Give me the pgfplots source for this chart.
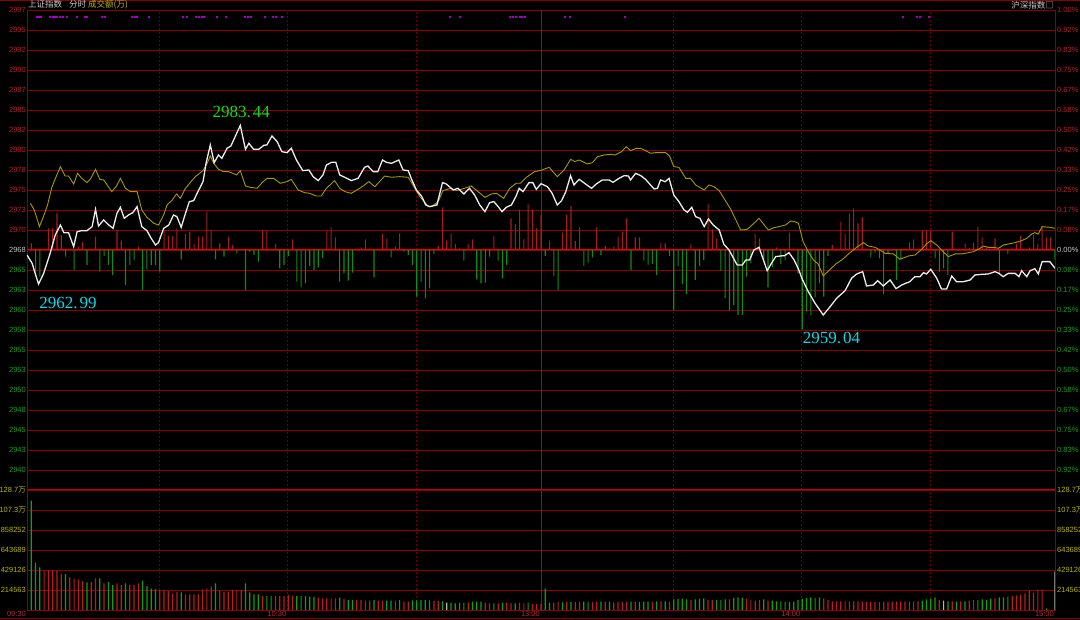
\documentclass[border=0pt]{standalone}
\usepackage{pgfplots}
\usepackage{pgfplotstable}
\pgfplotsset{compat=1.18}
\usepackage{fontspec}
\setmainfont{Liberation Sans}
\newfontfamily\cjk{Noto Sans CJK SC}
\newfontfamily\annofont{Liberation Serif}

\definecolor{gridred}{HTML}{8C0000}
\definecolor{vgrid}{HTML}{6A0000}
\definecolor{zerored}{HTML}{E80000}
\definecolor{sepred}{HTML}{C00000}
\definecolor{lblred}{HTML}{B82424}
\definecolor{lblgreen}{HTML}{18A018}
\definecolor{lblgrey}{HTML}{C8C8C8}
\definecolor{lblolive}{HTML}{B8B400}
\definecolor{pricewhite}{HTML}{EDEDED}
\definecolor{avgyellow}{HTML}{A89800}
\definecolor{barred}{HTML}{A81C1C}
\definecolor{bargreen}{HTML}{128C12}
\definecolor{volred}{HTML}{B81E1E}
\definecolor{volgreen}{HTML}{10A010}
\definecolor{volgrey}{HTML}{B4B4B4}
\definecolor{higreen}{HTML}{10E010}
\definecolor{locyan}{HTML}{10D8E8}
\definecolor{dotpurple}{HTML}{A000C8}
\definecolor{timered}{HTML}{B03030}

\newcommand{\tR}[1]{\textcolor{lblred}{#1}}
\newcommand{\tG}[1]{\textcolor{lblgreen}{#1}}
\newcommand{\tW}[1]{\textcolor{lblgrey}{#1}}
\newcommand{\tY}[1]{\textcolor{lblolive}{#1}}
\newcommand{\lblfont}{\fontsize{7.5}{8}\selectfont}

% minute of session (0..240) / index value
\pgfplotstableread{
m v
0 2967.58
1.2 2966.55
1.9 2965.31
2.7 2963.99
3.9 2965.31
5.4 2967.79
6.6 2970.06
7.8 2971.29
8.6 2970.34
9.7 2970.34
10.9 2968.61
11.7 2970.47
12.8 2970.59
14.0 2970.59
15.2 2971.09
16.0 2973.23
16.7 2971.17
17.9 2971.91
19.1 2971.29
20.1 2970.88
21.0 2972.74
21.8 2973.48
22.7 2972.12
23.7 2972.53
24.7 2972.82
25.7 2973.56
26.8 2971.09
28.0 2970.59
29.0 2969.64
30.0 2968.82
30.7 2969.11
31.9 2970.88
33.1 2971.29
34.2 2972.53
35.0 2972.32
36.0 2971.00
37.0 2972.74
37.9 2974.18
38.9 2974.30
40.1 2975.62
41.1 2976.65
41.8 2978.92
42.8 2981.19
43.7 2979.00
44.7 2979.95
45.5 2979.54
46.7 2980.78
47.6 2981.06
48.6 2982.22
49.8 2983.60
51.0 2980.65
51.8 2981.39
52.9 2980.65
54.1 2980.65
55.3 2981.15
56.0 2981.19
57.2 2982.30
58.4 2981.60
59.5 2980.36
60.7 2980.24
61.7 2980.78
62.9 2979.33
64.4 2978.01
65.8 2978.10
66.8 2977.27
68.0 2976.78
69.1 2977.48
69.9 2978.71
71.1 2979.04
72.1 2979.04
73.0 2977.48
74.2 2977.19
75.7 2976.78
77.3 2977.06
78.8 2978.42
79.6 2978.59
80.8 2977.89
81.9 2977.89
83.0 2979.33
83.9 2979.04
85.1 2978.92
86.8 2979.33
87.8 2978.10
89.0 2978.01
89.7 2977.06
90.9 2975.62
92.1 2974.88
93.1 2973.77
94.0 2973.56
95.7 2973.77
97.0 2976.53
97.9 2976.36
99.5 2975.62
100.6 2975.83
102.0 2975.13
103.3 2975.83
104.5 2975.00
105.7 2973.77
106.9 2972.94
108.0 2974.05
109.0 2974.18
110.0 2973.56
110.9 2972.94
111.9 2973.48
113.1 2973.77
114.2 2974.88
114.9 2975.83
115.8 2975.42
117.2 2976.53
118.1 2976.53
118.9 2975.70
120.0 2976.40
121.5 2976.03
122.6 2975.21
123.8 2973.77
124.8 2974.30
125.8 2975.42
126.9 2977.39
127.7 2976.24
128.9 2976.94
130.4 2976.36
131.8 2975.83
132.9 2976.36
134.3 2976.86
135.9 2976.86
136.8 2976.57
138.2 2977.06
139.4 2977.39
140.4 2977.35
140.9 2976.86
142.1 2977.68
143.3 2977.39
144.4 2976.94
146.4 2975.75
147.2 2975.83
147.9 2976.86
149.0 2976.65
149.9 2977.06
151.0 2975.00
152.2 2974.18
153.4 2973.15
154.2 2972.86
155.2 2973.48
156.1 2972.32
157.1 2972.12
158.1 2971.09
159.1 2972.03
160.2 2971.29
161.6 2970.67
162.7 2968.90
163.9 2968.20
165.8 2966.34
167.0 2966.34
167.8 2966.96
168.7 2966.96
169.7 2968.20
170.9 2968.53
171.8 2967.17
172.8 2965.64
173.8 2966.55
174.8 2967.38
175.9 2967.46
176.9 2967.50
177.9 2967.87
179.1 2966.96
180.2 2965.73
180.9 2964.70
182.4 2963.05
184.0 2961.60
185.9 2960.16
187.5 2961.19
189.0 2962.22
191.0 2963.17
192.5 2964.70
193.7 2965.23
195.1 2965.52
196.0 2963.75
197.6 2963.87
198.6 2964.41
199.9 2963.75
201.5 2964.49
202.9 2963.42
204.2 2963.87
206.1 2964.28
207.3 2964.90
208.5 2964.90
209.3 2965.40
210.0 2965.23
211.0 2965.81
212.4 2964.70
213.5 2963.38
214.7 2963.38
215.9 2964.98
217.0 2964.28
218.6 2964.28
220.2 2964.49
221.3 2965.11
222.9 2965.19
224.4 2965.23
226.0 2965.52
226.9 2965.31
227.9 2964.90
229.1 2965.31
230.7 2965.31
231.6 2964.90
232.2 2965.64
233.4 2964.90
234.2 2965.64
235.3 2965.89
236.1 2965.23
237.0 2966.76
238.8 2966.76
240.0 2965.93
}\priceline

\pgfplotstableread{
m v
0.8 2973.97
1.7 2973.15
2.9 2971.09
3.9 2972.41
4.8 2973.77
5.8 2975.95
6.8 2977.27
7.8 2978.51
8.9 2977.35
9.7 2977.35
10.9 2976.36
11.8 2977.68
12.8 2977.06
14.0 2976.53
14.9 2977.06
16.0 2978.18
17.0 2976.94
17.9 2976.86
19.8 2975.42
20.9 2976.12
21.8 2977.06
23.0 2975.83
24.1 2975.42
25.7 2975.42
26.8 2973.15
28.0 2972.24
29.6 2971.50
30.7 2971.29
31.9 2972.53
32.7 2973.77
33.9 2974.38
34.9 2975.13
35.8 2974.59
37.0 2975.83
38.1 2976.53
39.3 2977.27
40.5 2977.77
41.2 2978.10
42.0 2978.84
42.8 2979.83
43.6 2978.92
44.7 2978.18
45.9 2977.89
47.1 2977.89
48.9 2977.48
49.8 2978.01
51.0 2976.12
52.1 2975.95
53.7 2975.83
54.9 2976.53
56.0 2977.06
57.6 2977.06
59.1 2976.45
60.7 2976.65
61.7 2976.94
63.3 2975.62
64.8 2975.29
66.0 2975.21
67.5 2974.88
68.7 2974.88
69.9 2975.83
71.8 2976.78
73.0 2975.83
74.2 2975.42
75.7 2975.21
77.3 2975.70
78.8 2976.24
79.8 2976.65
81.2 2976.03
82.3 2976.65
83.5 2977.35
85.1 2977.19
87.0 2977.27
89.0 2977.19
90.1 2976.24
91.7 2974.80
93.6 2973.64
94.4 2973.56
96.0 2974.18
97.1 2975.54
99.0 2975.83
100.2 2975.54
102.2 2975.83
103.7 2976.12
105.3 2975.42
106.9 2974.71
108.4 2975.13
109.6 2975.21
111.3 2974.59
112.7 2975.83
114.2 2976.45
115.2 2976.45
116.6 2977.19
118.5 2977.89
120.0 2978.05
121.9 2978.42
123.8 2977.27
125.4 2978.10
126.9 2979.41
127.9 2979.13
128.9 2979.33
130.8 2978.84
132.0 2979.00
133.2 2979.74
134.7 2979.95
136.3 2980.03
137.3 2979.95
138.8 2980.36
139.9 2980.98
140.9 2980.49
142.3 2980.77
143.3 2980.77
144.4 2980.49
145.6 2980.16
146.8 2980.24
148.0 2980.24
149.1 2980.24
150.0 2979.83
151.0 2978.51
152.2 2978.42
153.8 2977.06
154.9 2977.06
156.1 2976.24
158.1 2975.62
159.2 2976.24
160.4 2976.03
161.6 2975.54
162.7 2974.59
164.3 2973.23
165.5 2971.91
166.6 2970.67
168.2 2970.76
169.7 2971.50
170.9 2972.12
172.1 2971.29
173.1 2970.67
174.4 2970.96
175.6 2971.09
177.1 2971.29
178.3 2971.79
179.3 2971.70
180.1 2971.50
181.2 2969.23
182.4 2967.99
183.6 2966.96
184.7 2966.47
185.9 2964.98
187.5 2965.81
189.0 2966.55
190.2 2966.96
191.8 2967.71
192.9 2968.20
194.1 2968.69
195.3 2969.11
196.4 2968.69
198.0 2968.53
199.1 2968.20
200.3 2967.79
202.3 2967.71
203.8 2967.05
205.8 2967.46
207.3 2967.58
208.9 2968.28
210.0 2968.94
211.0 2969.35
212.4 2968.82
213.5 2968.20
215.1 2967.38
216.7 2967.71
218.2 2967.71
219.8 2967.87
220.9 2967.99
222.1 2968.28
223.3 2968.69
224.4 2968.53
225.6 2968.53
226.8 2968.41
228.0 2968.82
229.1 2968.94
230.7 2969.11
232.2 2969.35
233.4 2969.64
234.6 2970.18
235.3 2970.34
236.1 2970.18
237.0 2971.09
238.8 2971.00
240.0 2970.88
}\avgline

% red/green strength bars, in grid steps from the zero line
\pgfplotstableread{
m v
1 0.33
5 1.08
6 1.08
7 1.83
8 0.75
12 0.17
13 0.42
16 0.67
21 1.0
22 0.47
26 0.17
32 1.0
33 0.7
34 0.7
35 1.08
37 0.8
38 0.92
39 0.3
40 0.67
41 0.67
42 1.92
43 1.0
45 0.33
47 0.67
48 0.25
55 1.0
56 0.97
58 0.3
62 0.53
70 0.97
71 1.13
72 0.63
77 0.08
78 0.13
79 0.53
80 0.08
83 0.8
84 0.58
86 0.2
87 0.83
96 0.2
97 2.13
98 0.47
99 0.83
100 0.3
101 0.08
103 0.3
104 0.53
109 0.7
113 1.58
114 1.3
115 2.03
116 0.53
117 2.28
118 2.03
119 1.08
120 1.75
122 0.47
125 0.87
126 1.75
127 2.2
128 0.45
129 1.13
133 1.13
135 0.2
136 0.08
137 0.2
138 0.67
139 0.92
140 1.58
142 0.63
143 0.63
148 0.33
149 0.33
155 0.3
159 2.3
160 1.03
161 0.58
170 0.8
171 0.58
175 0.13
178 0.87
188 0.25
190 1.42
191 0.8
192 1.83
193 2.08
194 1.33
195 1.63
206 0.37
207 0.53
209 0.97
210 0.97
211 0.97
216 0.92
219 0.33
220 0.08
221 0.37
222 1.17
223 0.63
224 0.13
226 0.58
230 0.08
231 0.3
232 0.7
234 0.13
235 0.75
236 0.3
237 1.17
238 0.63
239 0.63
}\strup

\pgfplotstableread{
m v
2 -1.25
3 -1.33
9 -0.33
11 -1.0
14 -0.75
17 -1.08
18 -0.3
19 -0.75
20 -1.25
23 -1.75
24 -0.75
25 -0.5
27 -2.0
28 -0.97
29 -0.75
30 -0.75
31 -1.08
36 -0.47
44 -0.47
46 -0.33
49 -0.17
51 -2.0
52 -0.08
53 -0.25
54 -0.58
59 -0.92
60 -0.75
61 -0.3
63 -1.58
64 -1.87
65 -1.67
66 -0.8
67 -1.0
68 -0.87
69 -0.42
73 -1.58
74 -1.17
75 -1.53
76 -1.13
81 -1.37
85 -0.37
88 -0.08
89 -0.25
90 -0.75
91 -2.33
92 -1.58
93 -2.42
94 -1.92
95 -0.2
102 -0.53
105 -1.47
106 -1.67
107 -1.63
108 -0.33
110 -0.53
111 -1.42
112 -0.75
121 -0.3
123 -1.3
124 -2.0
130 -0.8
131 -0.63
132 -0.37
134 -0.25
141 -1.0
144 -0.53
145 -0.75
146 -0.7
147 -1.25
150 -0.3
151 -3.0
152 -0.8
153 -1.7
154 -2.2
156 -1.5
157 -0.8
158 -0.5
162 -1.03
163 -2.42
164 -3.03
165 -2.75
166 -3.25
167 -3.25
168 -1.33
169 -0.67
172 -0.53
173 -1.87
174 -0.87
176 -0.7
177 -0.5
180 -1.17
181 -3.97
182 -3.08
183 -3.25
184 -2.37
185 -1.67
186 -2.33
187 -0.3
197 -0.37
198 -0.13
199 -0.42
200 -2.2
201 -0.2
203 -1.5
204 -0.47
212 -0.42
213 -1.08
214 -0.92
215 -1.25
227 -1.17
229 -0.2
240 -0.47
}\strdn

% turnover per minute, in units of 10 thousand
\pgfplotstableread{
m v
4 42.9
5 42.9
6 42.9
7 42.2
8 38.6
10 35.0
11 33.6
12 32.9
13 31.1
15 30.0
16 34.0
18 28.6
21 28.6
22 26.8
24 26.8
25 26.8
26 28.6
31 21.5
32 21.5
33 20.4
34 17.9
35 19.3
37 16.8
38 16.8
39 16.8
40 16.8
41 22.2
42 23.2
43 25.0
45 20.7
46 19.3
47 19.3
48 21.5
49 21.5
50 21.5
55 15.0
58 15.0
59 15.0
60 15.0
61 16.1
62 15.4
68 13.2
69 12.5
70 12.5
71 12.5
72 12.5
74 11.8
77 10.7
78 10.7
79 10.0
80 10.0
82 10.0
83 10.0
86 10.0
88 8.9
89 8.9
95 10.0
96 9.7
103 8.2
107 7.9
108 7.2
110 7.2
112 7.9
113 7.2
115 7.9
116 7.2
118 6.4
119 6.4
120 6.8
123 7.9
124 8.9
126 8.9
128 8.6
129 8.9
132 8.6
133 8.9
135 8.9
137 8.2
138 8.6
139 8.6
140 8.6
142 8.6
146 8.6
148 9.3
150 8.6
155 10.7
159 10.7
160 10.7
164 11.4
168 12.2
169 10.7
170 10.0
171 10.7
173 10.0
186 12.2
187 10.7
188 9.3
189 9.3
190 9.3
191 9.3
192 9.3
193 9.3
194 9.3
195 8.9
196 8.6
197 8.6
198 8.6
199 8.6
200 8.6
201 8.6
202 8.9
203 8.9
204 8.9
205 8.9
206 8.9
207 9.3
208 9.3
213 10.7
216 9.3
218 9.3
220 10.0
221 10.7
226 12.5
230 15.0
231 15.7
232 16.5
233 17.9
234 20.7
235 18.6
236 22.2
237 22.2
}\volred

\pgfplotstableread{
m v
1 117.3
2 50.8
3 45.8
9 38.6
14 29.7
17 34.0
19 30.0
20 26.8
23 28.6
27 31.5
28 25.7
29 22.9
30 22.5
36 19.0
44 28.6
51 28.6
52 19.0
53 16.8
54 16.8
56 15.0
57 15.0
63 15.0
64 15.0
65 15.0
66 14.3
67 14.3
73 13.2
75 10.7
76 10.7
81 10.7
84 10.0
85 10.0
87 10.7
90 10.4
91 10.4
92 10.7
93 10.7
94 10.4
97 9.3
99 7.9
100 7.2
101 7.9
102 7.9
104 8.9
105 8.9
106 8.9
109 7.2
111 7.9
114 7.2
117 7.9
121 22.9
122 7.9
125 8.2
127 8.6
130 8.9
131 8.6
134 8.9
136 8.6
141 8.9
143 8.6
144 8.9
145 8.9
147 9.3
149 9.3
151 11.4
152 11.8
153 12.2
154 11.4
156 11.4
157 12.2
158 12.5
161 10.7
162 10.7
163 11.4
165 12.9
166 13.6
167 12.9
172 11.4
174 10.0
175 9.3
176 9.3
177 8.9
178 8.6
179 8.6
180 10.7
181 11.8
182 12.9
183 13.6
184 12.9
185 13.6
209 10.0
210 11.4
211 12.2
212 13.6
215 9.3
217 8.9
219 9.3
222 10.7
223 11.4
224 10.7
225 12.2
227 13.6
228 13.6
229 14.3
238 1.8
}\volgreen

\pgfplotstableread{
m v
98 7.9
214 10.0
240 41.1
}\volgreyt

\pgfplotstableread{
m v
2.3 2997.0
2.8 2997.0
3.3 2997.0
5.4 2997.0
6.1 2997.0
6.5 2997.0
7.0 2997.0
7.7 2997.0
8.4 2997.0
9.3 2997.0
11.7 2997.0
13.5 2997.0
14.0 2997.0
17.5 2997.0
18.2 2997.0
24.5 2997.0
25.2 2997.0
25.7 2997.0
28.5 2997.0
36.4 2997.0
37.4 2997.0
39.5 2997.0
40.2 2997.0
40.9 2997.0
41.3 2997.0
44.4 2997.0
46.5 2997.0
50.9 2997.0
51.6 2997.0
52.3 2997.0
55.6 2997.0
57.4 2997.0
58.1 2997.0
59.5 2997.0
98.8 2997.0
101.1 2997.0
112.8 2997.0
113.5 2997.0
114.2 2997.0
115.0 2997.0
115.6 2997.0
116.3 2997.0
125.6 2997.0
126.8 2997.0
139.6 2997.0
204.5 2997.0
207.6 2997.0
208.5 2997.0
210.6 2997.0
}\purpledots

\pgfplotsset{
  panel/.style={scale only axis, width=1028pt, xmin=0, xmax=240, anchor=south west},
  toppanel/.style={panel, height=480pt, at={(27pt,130pt)}},
  volpanel/.style={panel, height=120pt, at={(27pt,10pt)}, ymin=0, ymax=128.7378},
}
\tikzset{vline/.style={vgrid, line width=0.7pt, dash pattern=on 2pt off 2pt}}

\begin{document}
\begin{tikzpicture}[x=1pt,y=1pt]
\useasboundingbox (0,0) rectangle (1080,620);
\clip (0,0) rectangle (1080,620);
\fill[black] (0,0) rectangle (1080,620);
\draw[gridred, line width=0.8pt] (0,619.5) -- (1080,619.5);
\draw[gridred, line width=0.8pt] (0,1.3) -- (1080,1.3);

% price panel: grid and left labels
\begin{axis}[toppanel, ymin=2938.518, ymax=2997.882,
  axis line style={draw=gridred, line width=0.9pt},
  xtick=\empty, major tick length=0pt,
  ytick={2940.9915,2943.465,2945.9385,2948.412,2950.8855,2953.359,2955.8325,2958.306,2960.7795,2963.253,2965.7265,2968.2,2970.6735,2973.147,2975.6205,2978.094,2980.5675,2983.041,2985.5145,2987.988,2990.4615,2992.935,2995.4085,2997.882},
  yticklabels={\tG{2940},\tG{2943},\tG{2945},\tG{2948},\tG{2950},\tG{2953},\tG{2955},\tG{2958},\tG{2960},\tG{2963},\tG{2965},\tW{2968},\tR{2970},\tR{2973},\tR{2975},\tR{2978},\tR{2980},\tR{2982},\tR{2985},\tR{2987},\tR{2990},\tR{2992},\tR{2995},\tR{2997}},
  yticklabel style={font=\lblfont, inner sep=1pt},
  ymajorgrids, major grid style={draw=gridred, line width=0.8pt},
]
\pgfplotsinvokeforeach{30.8,60.8,90.8,150.8,180.8,210.8}{
  \draw[vline] (axis cs:#1,2938.518) -- (axis cs:#1,2997.882);
}
\draw[sepred, line width=0.9pt] (axis cs:120,2938.518) -- (axis cs:120,2997.882);
\draw[sepred, line width=1.6pt] (axis cs:0,2938.518) -- (axis cs:240,2938.518);
\end{axis}

% strength bars and right percent labels
\begin{axis}[toppanel, ymin=-12, ymax=12,
  axis line style={draw=none}, xtick=\empty, major tick length=0pt,
  ytick={-11,...,12}, yticklabel pos=right,
  yticklabels={\tG{0.92\%},\tG{0.83\%},\tG{0.75\%},\tG{0.67\%},\tG{0.58\%},\tG{0.50\%},\tG{0.42\%},\tG{0.33\%},\tG{0.25\%},\tG{0.17\%},\tG{0.08\%},\tW{0.00\%},\tR{0.08\%},\tR{0.17\%},\tR{0.25\%},\tR{0.33\%},\tR{0.42\%},\tR{0.50\%},\tR{0.58\%},\tR{0.67\%},\tR{0.75\%},\tR{0.83\%},\tR{0.92\%},\tR{1.00\%}},
  yticklabel style={font=\lblfont, inner sep=2pt},
]
\addplot[ybar, bar shift=0pt, bar width=1.1pt, fill=barred, draw=none] table {\strup};
\addplot[ybar, bar shift=0pt, bar width=1.1pt, fill=bargreen, draw=none] table {\strdn};
\end{axis}

% index lines
\begin{axis}[toppanel, ymin=2938.518, ymax=2997.882, axis lines=none, ticks=none]
\draw[zerored, line width=1pt] (axis cs:0,2968.2) -- (axis cs:240,2968.2);
\addplot[avgyellow, line width=0.9pt] table {\avgline};
\addplot[pricewhite, line width=1.3pt] table {\priceline};
\addplot[only marks, mark=square*, mark size=0.5pt, dotpurple] table {\purpledots};
\node[font=\annofont\fontsize{17}{17}\selectfont, text=higreen] at (axis cs:50,2985.27) {2983.\hspace{2pt}44};
\node[font=\annofont\fontsize{17}{17}\selectfont, text=locyan] at (axis cs:9.6,2961.64) {2962.\hspace{2pt}99};
\node[font=\annofont\fontsize{17}{17}\selectfont, text=locyan] at (axis cs:187.8,2957.31) {2959.\hspace{2pt}04};
\end{axis}

% turnover panel
\begin{axis}[volpanel,
  axis line style={draw=gridred, line width=0.9pt},
  major tick length=0pt,
  xtick={0,60.8,120,180.8,240}, xticklabels={09:30,10:30,13:00,14:00,15:00},
  xticklabel style={anchor=north east, font=\lblfont, text=timered, inner sep=1pt},
  ytick={21.4563,42.9126,64.3689,85.8252,107.2815,128.7378},
  yticklabels={\tY{214563},\tY{429126},\tY{643689},\tY{858252},\tY{107.3{\cjk 万}},\tY{128.7{\cjk 万}}},
  yticklabel style={font=\lblfont, inner sep=1pt},
  ymajorgrids, major grid style={draw=gridred, line width=0.8pt},
]
\pgfplotsinvokeforeach{30.8,60.8,90.8,150.8,180.8,210.8}{
  \draw[vline] (axis cs:#1,0) -- (axis cs:#1,128.7378);
}
\draw[sepred, line width=0.9pt] (axis cs:120,0) -- (axis cs:120,128.7378);
\addplot[ybar, bar shift=0pt, bar width=1.2pt, fill=volred, draw=none] table {\volred};
\addplot[ybar, bar shift=0pt, bar width=1.2pt, fill=volgreen, draw=none] table {\volgreen};
\addplot[ybar, bar shift=0pt, bar width=1.2pt, fill=volgrey, draw=none] table {\volgreyt};
\end{axis}

\begin{axis}[volpanel, axis line style={draw=none}, xtick=\empty, major tick length=0pt,
  ytick={21.4563,42.9126,64.3689,85.8252,107.2815,128.7378}, yticklabel pos=right,
  yticklabels={\tY{214563},\tY{429126},\tY{643689},\tY{858252},\tY{107.3{\cjk 万}},\tY{128.7{\cjk 万}}},
  yticklabel style={font=\lblfont, inner sep=2pt},
]
\end{axis}

\node[anchor=west, inner sep=0pt, font=\cjk\fontsize{8.5}{9}\selectfont] at (28,615)
  {\textcolor{lblgrey}{上证指数}\hspace{7pt}\textcolor{lblgrey}{分时}\hspace{2pt}\textcolor{lblolive}{成交额(万)}};
\node[anchor=east, inner sep=0pt, font=\cjk\fontsize{8.5}{9}\selectfont, text=lblgrey] at (1054,615) {沪深指数□};
\end{tikzpicture}
\end{document}
